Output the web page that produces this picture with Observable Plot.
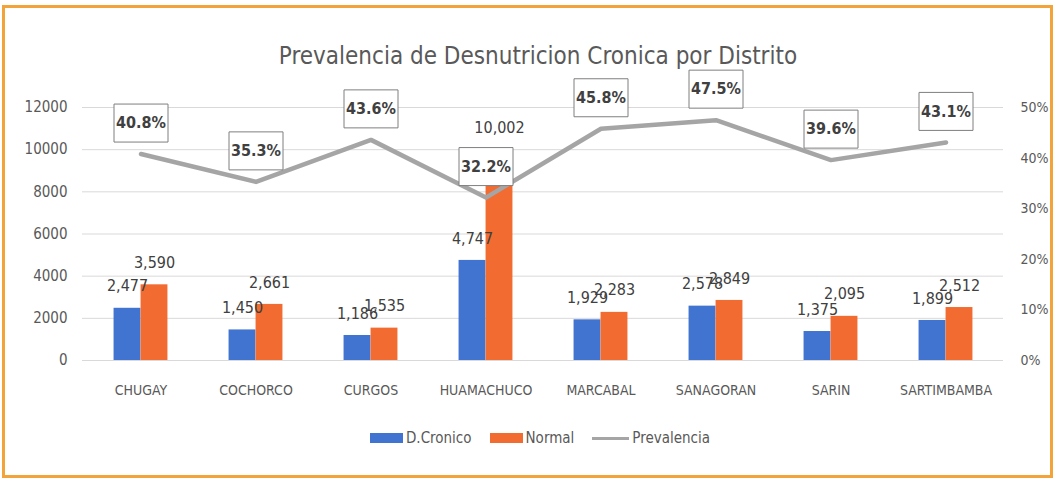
<!DOCTYPE html>
<html>
<head>
<meta charset="utf-8">
<script src="https://cdn.jsdelivr.net/npm/d3@7"></script>
<script src="https://cdn.jsdelivr.net/npm/@observablehq/plot@0.6"></script>
<style>
  html, body { margin: 0; padding: 0; background: #fff; }
  body { width: 1055px; height: 481px; position: relative; overflow: hidden;
         font-family: "DejaVu Sans Condensed", "Roboto", sans-serif; }
  #frame { position: absolute; left: 2px; top: 5px; width: 1051px; height: 473px;
           border: 3px solid #f2a33a; box-sizing: border-box; }
  #title { position: absolute; left: 0; width: 1076px; top: 42px; text-align: center;
           font-size: 24px; color: #595959; }
  #chart { position: absolute; left: 0; top: 58px; }
  #legend { position: absolute; top: 429px; left: 0; width: 1080px; display: flex; justify-content: center;
            align-items: center; font-size: 15px; color: #595959; }
  .sw { display: inline-block; width: 33px; height: 10px; margin-right: 3px; }
  .ln { display: inline-block; width: 37px; height: 3px; background: #a5a5a5; margin-right: 3px; }
  .item { display: flex; align-items: center; margin: 0 9px; }
</style>
</head>
<body>
<div id="frame"></div>
<div id="title">Prevalencia de Desnutricion Cronica por Distrito</div>
<div id="chart"></div>
<div id="legend"></div>
<script>
const districts = ["CHUGAY", "COCHORCO", "CURGOS", "HUAMACHUCO", "MARCABAL", "SANAGORAN", "SARIN", "SARTIMBAMBA"];
const cronico = [2477, 1450, 1186, 4747, 1929, 2578, 1375, 1899];
const normal = [3590, 2661, 1535, 10002, 2283, 2849, 2095, 2512];
const prevalencia = [0.408, 0.353, 0.436, 0.322, 0.458, 0.475, 0.396, 0.431];
const leftTicks = [0, 2000, 4000, 6000, 8000, 10000, 12000];
const rightTicks = [0, 0.1, 0.2, 0.3, 0.4, 0.5];
const seriesNames = ["D.Cronico", "Normal", "Prevalencia"];
const seriesColors = ["#4173d0", "#f26b30", "#a5a5a5"];

const yMax = 12000, pMax = 0.5;
const toY = p => p * yMax / pMax;

const rows = districts.map((d, i) => ({district: d, cronico: cronico[i], normal: normal[i], prev: prevalencia[i], prevY: toY(prevalencia[i])}));

const W = 1055, H = 352;
const mL = 82, mR = 52, mT = 49, mB = 50;
const band = (W - mL - mR) / districts.length;
const barW = 27;
const fmt = d3.format(",");
const fontFam = '"DejaVu Sans Condensed", "Roboto", sans-serif';

const boxSymbol = {
  draw(ctx) {
    const w = 27, h = 19;
    ctx.moveTo(-w, -h); ctx.lineTo(w, -h); ctx.lineTo(w, h); ctx.lineTo(-w, h); ctx.closePath();
  }
};

const chart = Plot.plot({
  width: W, height: H,
  marginLeft: mL, marginRight: mR, marginTop: mT, marginBottom: mB,
  style: {fontFamily: fontFam, background: "transparent"},
  x: {domain: districts, padding: 0, label: null},
  y: {domain: [0, yMax], label: null},
  marks: [
    Plot.gridY(leftTicks, {stroke: "#d9d9d9", strokeOpacity: 1, strokeWidth: 1}),
    Plot.axisY(leftTicks, {anchor: "left", tickSize: 0, tickPadding: 15, fontSize: 15, fill: "#595959", label: null, tickFormat: d => String(d)}),
    Plot.axisY(rightTicks.map(toY), {anchor: "right", tickSize: 0, tickPadding: 17, fontSize: 14, fill: "#595959", label: null,
      tickFormat: d => Math.round(d / yMax * pMax * 100) + "%"}),
    Plot.axisX({anchor: "bottom", tickSize: 0, tickPadding: 25, fontSize: 14, fill: "#595959", label: null}),
    Plot.barY(rows, {x: "district", y: "cronico", fill: seriesColors[0],
      insetLeft: band / 2 - barW, insetRight: band / 2}),
    Plot.barY(rows, {x: "district", y: "normal", fill: seriesColors[1],
      insetLeft: band / 2, insetRight: band / 2 - barW}),
    Plot.line(rows, {x: "district", y: "prevY", stroke: seriesColors[2], strokeWidth: 4.5}),
    Plot.text(rows, {x: "district", y: "cronico", text: d => fmt(d.cronico), dx: -barW / 2, dy: -22,
      fontSize: 16, fill: "#404040"}),
    Plot.text(rows, {x: "district", y: "normal", text: d => fmt(d.normal), dx: barW / 2, dy: -22,
      fontSize: 16, fill: "#404040"}),
    Plot.dot(rows, {x: "district", y: "prevY", dy: -31, symbol: boxSymbol, r: 5, fill: "white", stroke: "#7f7f7f", strokeWidth: 1}),
    Plot.text(rows, {x: "district", y: "prevY", dy: -31, text: d => (d.prev * 100).toFixed(1) + "%",
      fontSize: 16, fontWeight: "bold", fill: "#404040"})
  ]
});
document.getElementById("chart").appendChild(chart);

const legend = document.getElementById("legend");
seriesNames.forEach((name, i) => {
  const item = document.createElement("div");
  item.className = "item";
  const mk = document.createElement("span");
  if (i < 2) { mk.className = "sw"; mk.style.background = seriesColors[i]; }
  else { mk.className = "ln"; }
  item.appendChild(mk);
  const t = document.createElement("span");
  t.textContent = name;
  item.appendChild(t);
  legend.appendChild(item);
});
</script>
</body>
</html>
